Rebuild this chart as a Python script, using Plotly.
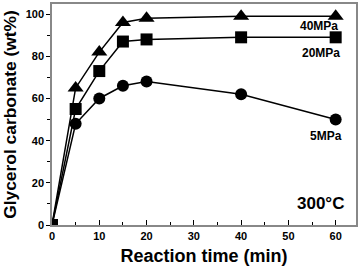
import plotly.graph_objects as go

time = [0, 5, 10, 15, 20, 40, 60]
p40 = [0, 65, 82, 96, 98, 99, 99]
p20 = [0, 55, 73, 87, 88, 89, 89]
p5 = [0, 48, 60, 66, 68, 62, 50]
series = [("40MPa", p40, "triangle-up"), ("20MPa", p20, "square"), ("5MPa", p5, "circle")]

FONT = "Liberation Sans, Arial, sans-serif"
fig = go.Figure()
for name, vals, sym in series:
    fig.add_trace(go.Scatter(x=time, y=vals, mode="lines+markers", name=name,
                             line=dict(color="black", width=1.5),
                             marker=dict(symbol=sym, size=12 if sym != "triangle-up" else 14, color="black"),
                             showlegend=False, cliponaxis=True))

lab = dict(family=FONT, size=12, color="black", weight="bold")
fig.add_annotation(x=1, xref="paper", y=94.3, yref="y", text="40MPa", showarrow=False,
                   xanchor="right", xshift=-16, font=lab)
fig.add_annotation(x=1, xref="paper", y=81.8, yref="y", text="20MPa", showarrow=False,
                   xanchor="right", xshift=-14, font=lab)
fig.add_annotation(x=1, xref="paper", y=42, yref="y", text="5MPa", showarrow=False,
                   xanchor="right", xshift=-12, font=lab)
fig.add_annotation(x=1, xref="paper", y=10, yref="y", text="300°C", showarrow=False,
                   xanchor="right", xshift=-10, font=dict(family=FONT, size=17, color="black", weight="bold"))

fig.update_xaxes(range=[0, 64.3], tickvals=[0, 10, 20, 30, 40, 50, 60], ticks="inside", ticklen=5,
                 tickcolor="black", minor=dict(dtick=5, ticks="inside", ticklen=3, tickcolor="black"),
                 showline=True, linecolor="#888", linewidth=1.5, mirror=True, showgrid=False, zeroline=False,
                 tickfont=dict(family=FONT, size=11, color="black", weight="bold"),
                 title=dict(text="Reaction time (min)", standoff=8,
                            font=dict(family=FONT, size=18, color="black", weight="bold")))
fig.update_yaxes(range=[0, 104.8], tickvals=[0, 20, 40, 60, 80, 100], ticks="outside", ticklen=4,
                 tickcolor="black", minor=dict(dtick=10, ticks="outside", ticklen=3, tickcolor="black"),
                 showline=True, linecolor="#888", linewidth=1.5, mirror=True, showgrid=False, zeroline=False,
                 tickfont=dict(family=FONT, size=11, color="black", weight="bold"),
                 title=dict(text="Glycerol carbonate (wt%)", standoff=5,
                            font=dict(family=FONT, size=17.4, color="black", weight="bold")))
fig.update_layout(width=360, height=272, margin=dict(l=52, r=3, t=2, b=47),
                  plot_bgcolor="white", paper_bgcolor="white")
fig.write_html("out.html", config={"displayModeBar": False},
               post_script="document.body.style.margin='0';")
